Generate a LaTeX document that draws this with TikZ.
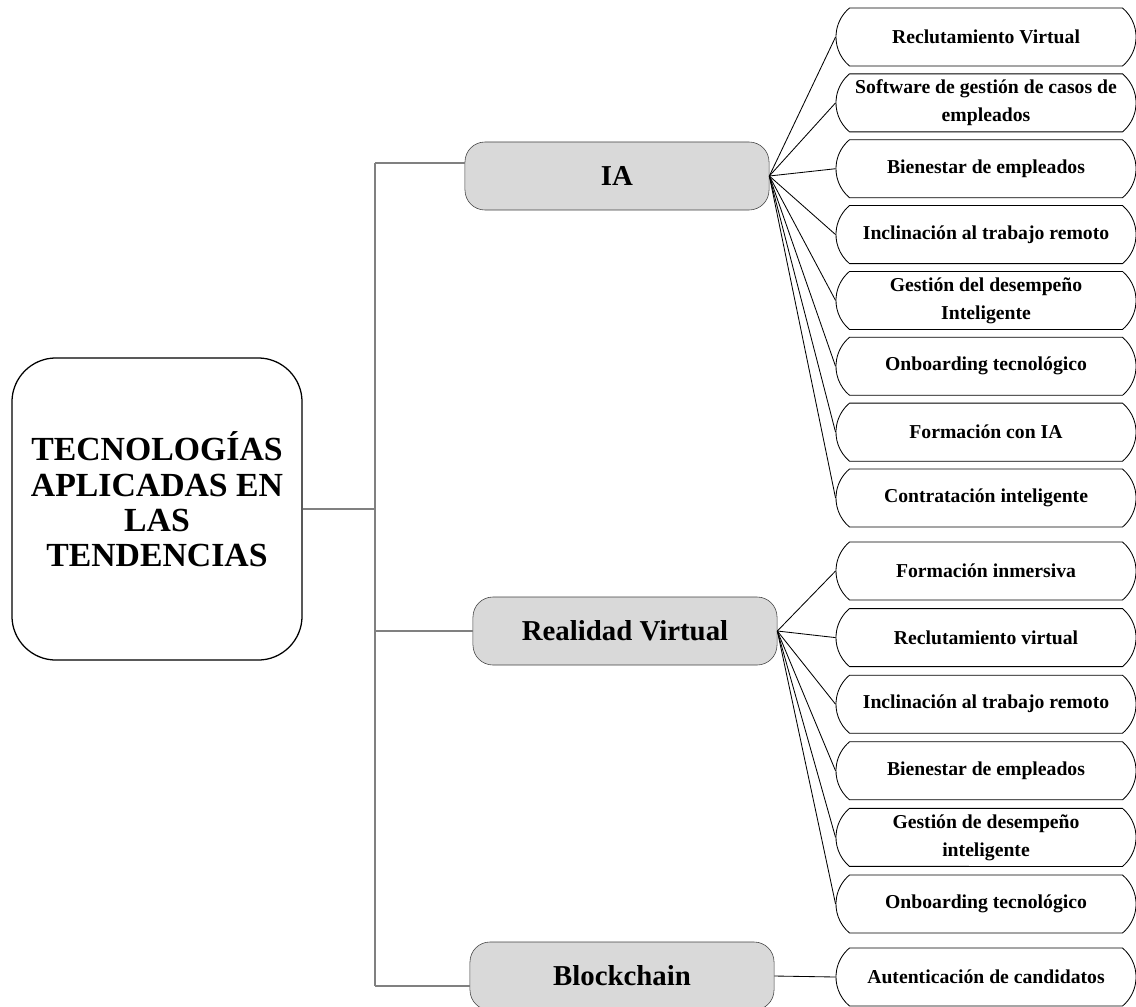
\documentclass[tikz,border=0pt]{standalone}
\usepackage{fontspec}
\setmainfont{Liberation Serif}
\usetikzlibrary{shapes.misc}

\begin{document}
\begin{tikzpicture}[x=0.025cm,y=-0.025cm,
        hoja/.style={draw,line width=0.6pt,rounded rectangle,rounded rectangle arc length=100,
            minimum width=6.7cm,minimum height=1.45cm,inner xsep=-0.4cm,inner ysep=0pt,
            align=center,font=\fontsize{14}{20}\selectfont\bfseries},
        rama/.style={draw=black!75,fill=black!15,rounded corners=0.5cm,
            minimum width=7.6cm,minimum height=1.7cm,font=\fontsize{20.5}{24}\selectfont\bfseries},
        tronco/.style={draw=black!50,line width=1pt}]
        \useasboundingbox (0,0) rectangle (1136,1006);
        \node[draw,line width=0.9pt,rounded corners=1.1cm,minimum width=7.25cm,minimum height=7.55cm,
            align=center,font=\fontsize{24}{25}\selectfont\bfseries] (raiz) at (157,509)
            {TECNOLOGÍAS\\APLICADAS EN\\LAS\\TENDENCIAS\\[-11pt]};
        \node[rama] (ia) at (617,176) {IA};
        \node[rama] (rv) at (625,631) {Realidad Virtual};
        \node[rama] (bc) at (622,976) {Blockchain};
        \foreach \t [count=\i] in {Reclutamiento Virtual, Software de gestión de casos de\\empleados,
            Bienestar de empleados, Inclinación al trabajo remoto, Gestión del desempeño\\Inteligente,
            Onboarding tecnológico, Formación con IA, Contratación inteligente}
        {
        \node[hoja] (ia\i) at (986,{37+65.86*(\i-1)}) {\t};
        \draw[line width=0.6pt] (ia.east) -- (ia\i.west);
        }
        \foreach \t [count=\i] in {Formación inmersiva, Reclutamiento virtual, Inclinación al trabajo remoto,
            Bienestar de empleados, Gestión de desempeño\\inteligente, Onboarding tecnológico}
        {
        \node[hoja] (rv\i) at (986,{571+66.6*(\i-1)}) {\t};
        \draw[line width=0.6pt] (rv.east) -- (rv\i.west);
        }
        \node[hoja] (bc1) at (986,977) {Autenticación de candidatos};
        \draw[line width=0.6pt] (bc.east) -- (bc1.west);
        \coordinate (tia) at (375,163);
        \coordinate (tbc) at (375,986);
        \draw[tronco] (tia) -- (tbc);
        \draw[tronco] (raiz.east) -- (raiz.east -| tia);
        \draw[tronco] (tia) -- (tia -| ia.west);
        \draw[tronco] (rv.west -| tia) -- (rv.west);
        \draw[tronco] (tbc) -- (tbc -| bc.west);
    \end{tikzpicture}
\end{document}
